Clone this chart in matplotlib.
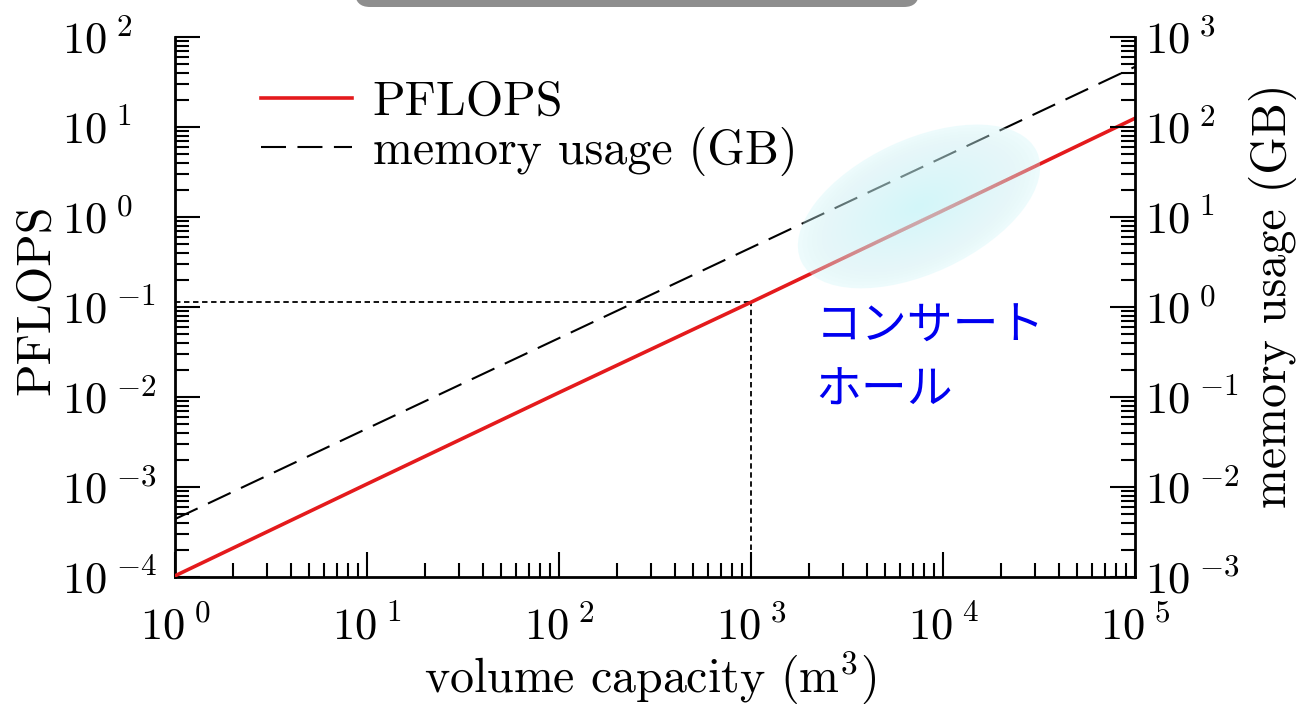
import numpy as np
import matplotlib
matplotlib.use('Agg')
import matplotlib.pyplot as plt
from matplotlib.patches import Ellipse, FancyBboxPatch
from matplotlib.ticker import LogLocator, FuncFormatter, NullFormatter
import matplotlib.transforms as mtrans

# ---- data ----
volume = [1, 10, 100, 1000, 1e4, 1e5]                        # m^3
pflops = [1.03e-4, 1.08e-3, 1.12e-2, 0.113, 1.18, 12.5]      # left axis
memory_gb = [4.4e-3, 4.46e-2, 0.451, 4.56, 46.1, 467]        # right axis
ref_volume = 1000
ref_pflops = 0.113
hall_volume = 7500
hall_pflops = 1.31
hall_label = 'コンサート\nホール'
series_labels = ['PFLOPS', 'memory usage (GB)']

plt.rcParams['mathtext.fontset'] = 'cm'
plt.rcParams['font.family'] = ['cmr10', 'DejaVu Serif']
plt.rcParams['axes.formatter.use_mathtext'] = True

W, H = 1296, 704
fig = plt.figure(figsize=(W / 100, H / 100), dpi=100)
ax = fig.add_axes([175 / W, 1 - 577 / H, 960 / W, 540 / H])
ax2 = ax.twinx()

ax.set_xscale('log')
ax.set_yscale('log')
ax2.set_yscale('log')
ax.set_xlim(1, 1e5)
ax.set_ylim(1e-4, 1e2)
ax2.set_ylim(1e-3, 1e3)


def log_fmt(v, p):
    e = int(round(np.log10(v)))
    if e < 0:
        return r'$10^{\;{-}%d}$' % (-e)
    return r'$10^{\;%d}$' % e


fmt = FuncFormatter(log_fmt)
for axis in (ax.xaxis, ax.yaxis, ax2.yaxis):
    axis.set_major_locator(LogLocator(base=10, numticks=20))
    axis.set_minor_locator(LogLocator(base=10, subs=np.arange(2, 10), numticks=20))
    axis.set_major_formatter(fmt)
    axis.set_minor_formatter(NullFormatter())

for a in (ax, ax2):
    a.spines['top'].set_visible(False)
    for s in a.spines.values():
        s.set_linewidth(2.0)
ax.spines['right'].set_visible(False)
ax2.spines['left'].set_visible(False)
ax2.spines['bottom'].set_visible(False)

TICK_FS = 32
ax.tick_params(which='both', direction='in', top=False, right=False, labelsize=TICK_FS, width=1.5)
ax.tick_params(which='major', length=18)
ax.tick_params(which='minor', length=10)
ax.tick_params(axis='x', which='major', pad=21)
ax.tick_params(axis='y', which='major', pad=81)
ax2.tick_params(which='both', direction='in', left=False, labelsize=TICK_FS, width=1.5)
ax2.tick_params(which='major', length=18, pad=7)
ax2.tick_params(which='minor', length=10)

# lines
l1, = ax.plot(volume, pflops, color='#e41a1c', lw=2.6, label=series_labels[0], zorder=3)
l2, = ax2.plot(volume, memory_gb, color='black', lw=1.5, dashes=(12, 5.5),
               label=series_labels[1], zorder=3)

# reference dotted lines
ax.plot([ax.get_xlim()[0], ref_volume], [ref_pflops, ref_pflops], color='black',
        lw=1.3, ls=(0, (3, 2)), zorder=2)
ax.plot([ref_volume, ref_volume], [ax.get_ylim()[0], ref_pflops], color='black',
        lw=1.3, ls=(0, (3, 2)), zorder=2)

# shaded ellipse (concert hall region)
tr = fig.dpi_scale_trans + mtrans.ScaledTranslation(hall_volume, hall_pflops, ax.transData)
n = 25
for i in range(n):
    s = 1 - i / n
    ax2.add_patch(Ellipse((0, 0), 2.6 * s, 1.34 * s, angle=25, transform=tr,
                          facecolor='#cdf6f9', edgecolor='none',
                          alpha=0.35 if i == 0 else 0.037, zorder=5))

ax2.text(0.667, 0.405, hall_label, transform=ax2.transAxes, fontsize=33,
         color='#0000f0', family=['Noto Sans CJK JP', 'DejaVu Sans'],
         va='center', ha='left', linespacing=1.42, zorder=6)

# labels
LABEL_FS = 34.5
ax.set_xlabel('volume capacity (m$^3$)', fontsize=LABEL_FS)
ax.set_ylabel('PFLOPS', fontsize=LABEL_FS)
ax2.set_ylabel('memory usage (GB)', fontsize=LABEL_FS)
ax.xaxis.set_label_coords(0.495, -0.134)
ax.yaxis.set_label_coords(-0.121, 0.513)
ax2.yaxis.set_label_coords(1.119, 0.52)

ax2.legend([l1, l2], series_labels, loc='upper left', bbox_to_anchor=(0.09, 0.92),
           frameon=False, fontsize=LABEL_FS, handlelength=1.9, handletextpad=0.42,
           labelspacing=0.05, borderpad=0, borderaxespad=0)

# grey rounded tab at the top edge
fig.add_artist(FancyBboxPatch((3.55, 6.97), 5.64, 0.5,
                              boxstyle='round,pad=0,rounding_size=0.15',
                              transform=fig.dpi_scale_trans, facecolor='#8e8e8e',
                              edgecolor='none', clip_on=False))

# left tick labels: the "10" parts line up on the left, as in the reference
fig.canvas.draw()
for t in ax.yaxis.get_major_ticks():
    t.label1.set_horizontalalignment('left')

fig.savefig('out.png', dpi=100)
